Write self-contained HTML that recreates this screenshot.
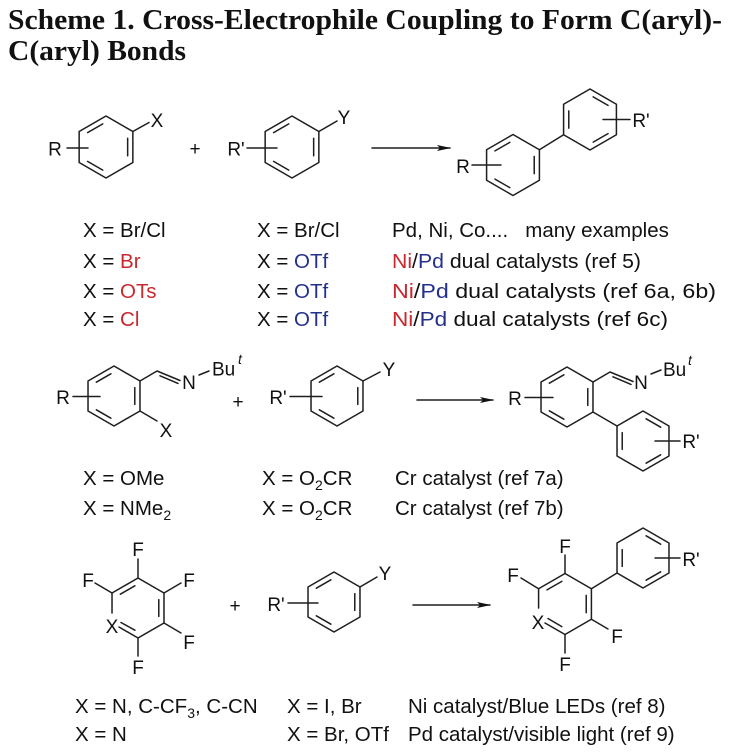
<!DOCTYPE html>
<html>
<head>
<meta charset="utf-8">
<style>
  html, body { margin:0; padding:0; background:#fff; }
  body { width:730px; height:753px; overflow:hidden; }
  svg { display:block; }
  .t { font-family:"Liberation Serif", serif; font-weight:bold; font-size:28px; fill:#111; }
  .l { font-family:"Liberation Sans", sans-serif; font-size:19px; fill:#111; text-anchor:middle; }
  .x { font-family:"Liberation Sans", sans-serif; font-size:20.5px; fill:#111; }
  .red { fill:#c8282e; }
  .blue { fill:#23318c; }
  .b { stroke:#1e1e1e; stroke-width:1.5; fill:none; stroke-linecap:round; stroke-linejoin:round; }
</style>
</head>
<body>
<svg width="730" height="753" viewBox="0 0 730 753" xmlns="http://www.w3.org/2000/svg">
  <defs>
    <marker id="ah" markerWidth="14" markerHeight="8" refX="13" refY="4" orient="auto" markerUnits="userSpaceOnUse">
      <path d="M0,1 L14,4 L0,7 L3,4 Z" fill="#111"/>
    </marker>
  </defs>

  <!-- Title -->
  <text class="t" x="8" y="29" textLength="714" lengthAdjust="spacingAndGlyphs">Scheme 1. Cross-Electrophile Coupling to Form C(aryl)-</text>
  <text class="t" x="8" y="60" textLength="178" lengthAdjust="spacingAndGlyphs">C(aryl) Bonds</text>

  <!-- ===== Section 1 ===== -->
  <polygon class="b" points="106,116 132.85,131.5 132.85,162.5 106,178 79.15,162.5 79.15,131.5"/>
  <line class="b" x1="87.6" y1="132.6" x2="102.75" y2="123.9"/>
  <line class="b" x1="127.65" y1="138.25" x2="127.65" y2="155.75"/>
  <line class="b" x1="102.75" y1="170.1" x2="87.6" y2="161.4"/>
  <line class="b" x1="132.85" y1="131.5" x2="149" y2="122.5"/>
  <text class="l" x="157" y="127">X</text>
  <line class="b" x1="67" y1="148" x2="88" y2="148"/>
  <text class="l" x="55" y="155.5">R</text>

  <text class="l" x="195" y="155">+</text>

  <polygon class="b" points="292,116 318.85,131.5 318.85,162.5 292,178 265.15,162.5 265.15,131.5"/>
  <line class="b" x1="273.6" y1="132.6" x2="288.75" y2="123.9"/>
  <line class="b" x1="313.65" y1="138.25" x2="313.65" y2="155.75"/>
  <line class="b" x1="288.75" y1="170.1" x2="273.6" y2="161.4"/>
  <line class="b" x1="318.85" y1="131.5" x2="337" y2="121"/>
  <text class="l" x="344" y="124">Y</text>
  <line class="b" x1="247" y1="148" x2="277" y2="148"/>
  <text class="l" x="236" y="155.5">R'</text>

  <line class="b" x1="372" y1="148" x2="450" y2="148" marker-end="url(#ah)"/>

  <polygon class="b" points="513,134.5 539.41,149.75 539.41,180.25 513,195.5 486.59,180.25 486.59,149.75"/>
  <line class="b" x1="494.97" y1="150.91" x2="509.81" y2="142.34"/>
  <line class="b" x1="534.22" y1="156.42" x2="534.22" y2="173.58"/>
  <line class="b" x1="509.81" y1="187.66" x2="494.97" y2="179.09"/>
  <line class="b" x1="539.41" y1="149.75" x2="563.59" y2="134.75"/>
  <polygon class="b" points="590,89 616.41,104.25 616.41,134.75 590,150 563.59,134.75 563.59,104.25"/>
  <line class="b" x1="568.78" y1="110.92" x2="568.78" y2="128.08"/>
  <line class="b" x1="593.19" y1="96.84" x2="608.03" y2="105.41"/>
  <line class="b" x1="608.03" y1="133.59" x2="593.19" y2="142.16"/>
  <line class="b" x1="472" y1="165" x2="501" y2="165"/>
  <text class="l" x="463" y="173">R</text>
  <line class="b" x1="603" y1="119.5" x2="630" y2="119.5"/>
  <text class="l" x="641" y="127">R'</text>

  <!-- Table 1 -->
  <text class="x" x="83" y="237">X = Br/Cl</text>
  <text class="x" x="257" y="237">X = Br/Cl</text>
  <text class="x" x="392" y="237" xml:space="preserve">Pd, Ni, Co....   many examples</text>

  <text class="x" x="83" y="268">X = <tspan class="red">Br</tspan></text>
  <text class="x" x="257" y="268">X = <tspan class="blue">OTf</tspan></text>
  <text class="x" x="392" y="268" textLength="249" lengthAdjust="spacingAndGlyphs"><tspan class="red">Ni</tspan>/<tspan class="blue">Pd</tspan> dual catalysts (ref 5)</text>

  <text class="x" x="83" y="298">X = <tspan class="red">OTs</tspan></text>
  <text class="x" x="257" y="298">X = <tspan class="blue">OTf</tspan></text>
  <text class="x" x="392" y="298" textLength="324" lengthAdjust="spacingAndGlyphs"><tspan class="red">Ni</tspan>/<tspan class="blue">Pd</tspan> dual catalysts (ref 6a, 6b)</text>

  <text class="x" x="83" y="326">X = <tspan class="red">Cl</tspan></text>
  <text class="x" x="257" y="326">X = <tspan class="blue">OTf</tspan></text>
  <text class="x" x="392" y="326" textLength="276" lengthAdjust="spacingAndGlyphs"><tspan class="red">Ni</tspan>/<tspan class="blue">Pd</tspan> dual catalysts (ref 6c)</text>

  <!-- ===== Section 2 ===== -->
  <polygon class="b" points="114,366 139.98,381 139.98,411 114,426 88.02,411 88.02,381"/>
  <line class="b" x1="96.34" y1="382.2" x2="110.88" y2="373.8"/>
  <line class="b" x1="134.78" y1="387.6" x2="134.78" y2="404.4"/>
  <line class="b" x1="110.88" y1="418.2" x2="96.34" y2="409.8"/>
  <line class="b" x1="73" y1="396.5" x2="100" y2="396.5"/>
  <text class="l" x="63" y="404">R</text>
  <polyline class="b" points="139.98,381 157,371 180,380.5"/>
  <line class="b" x1="160" y1="375.8" x2="178" y2="383.4"/>
  <text class="l" x="189" y="389">N</text>
  <line class="b" x1="199" y1="375" x2="209" y2="371"/>
  <text class="l" x="212" y="375.5" style="text-anchor:start">Bu</text>
  <text class="l" x="238" y="364" style="text-anchor:start;font-style:italic;font-size:14px">t</text>
  <line class="b" x1="139.98" y1="411" x2="157" y2="421"/>
  <text class="l" x="166" y="437">X</text>

  <text class="l" x="238" y="408">+</text>

  <polygon class="b" points="337,366 362.98,381 362.98,411 337,426 311.02,411 311.02,381"/>
  <line class="b" x1="319.34" y1="382.2" x2="333.88" y2="373.8"/>
  <line class="b" x1="357.78" y1="387.6" x2="357.78" y2="404.4"/>
  <line class="b" x1="333.88" y1="418.2" x2="319.34" y2="409.8"/>
  <line class="b" x1="362.98" y1="381" x2="380" y2="372"/>
  <text class="l" x="389" y="376">Y</text>
  <line class="b" x1="290" y1="396.5" x2="322" y2="396.5"/>
  <text class="l" x="278" y="404">R'</text>

  <line class="b" x1="417" y1="400" x2="493" y2="400" marker-end="url(#ah)"/>

  <polygon class="b" points="567,367 592.98,382 592.98,412 567,427 541.02,412 541.02,382"/>
  <line class="b" x1="549.34" y1="383.2" x2="563.88" y2="374.8"/>
  <line class="b" x1="587.78" y1="388.6" x2="587.78" y2="405.4"/>
  <line class="b" x1="563.88" y1="419.2" x2="549.34" y2="410.8"/>
  <line class="b" x1="525" y1="397.5" x2="553" y2="397.5"/>
  <text class="l" x="515" y="405">R</text>
  <polyline class="b" points="592.98,382 610,372 633,381.5"/>
  <line class="b" x1="613" y1="376.8" x2="631" y2="384.4"/>
  <text class="l" x="641" y="389">N</text>
  <line class="b" x1="651" y1="374" x2="661" y2="370"/>
  <text class="l" x="663" y="376" style="text-anchor:start">Bu</text>
  <text class="l" x="688" y="365" style="text-anchor:start;font-style:italic;font-size:14px">t</text>
  <line class="b" x1="592.98" y1="412" x2="617.02" y2="426"/>
  <polygon class="b" points="643,411 668.98,426 668.98,456 643,471 617.02,456 617.02,426"/>
  <line class="b" x1="622.22" y1="432.6" x2="622.22" y2="449.4"/>
  <line class="b" x1="646.12" y1="418.8" x2="660.66" y2="427.2"/>
  <line class="b" x1="660.66" y1="454.8" x2="646.12" y2="463.2"/>
  <line class="b" x1="655" y1="441" x2="680" y2="441"/>
  <text class="l" x="691" y="448">R'</text>

  <!-- Table 2 -->
  <text class="x" x="83" y="485">X = OMe</text>
  <text class="x" x="262" y="485">X = O<tspan font-size="14" dy="5">2</tspan><tspan dy="-5">CR</tspan></text>
  <text class="x" x="395" y="485">Cr catalyst (ref 7a)</text>
  <text class="x" x="83" y="515">X = NMe<tspan font-size="14" dy="5">2</tspan></text>
  <text class="x" x="262" y="515">X = O<tspan font-size="14" dy="5">2</tspan><tspan dy="-5">CR</tspan></text>
  <text class="x" x="395" y="515">Cr catalyst (ref 7b)</text>

  <!-- ===== Section 3 ===== -->
  <polyline class="b" points="112.02,613 112.02,593 138,578 163.98,593 163.98,623 138,638 119,627"/>
  <line class="b" x1="120.34" y1="594.2" x2="134.88" y2="585.8"/>
  <line class="b" x1="158.78" y1="599.6" x2="158.78" y2="616.4"/>
  <line class="b" x1="134.88" y1="630.2" x2="121" y2="622.5"/>
  <text class="l" x="112" y="633">X</text>
  <line class="b" x1="138" y1="578" x2="138" y2="559"/>
  <text class="l" x="138" y="556">F</text>
  <line class="b" x1="112.02" y1="593" x2="95" y2="583"/>
  <text class="l" x="88" y="587">F</text>
  <line class="b" x1="163.98" y1="593" x2="181" y2="583"/>
  <text class="l" x="189" y="587">F</text>
  <line class="b" x1="163.98" y1="623" x2="181" y2="633"/>
  <text class="l" x="189" y="649">F</text>
  <line class="b" x1="138" y1="638" x2="138" y2="656"/>
  <text class="l" x="138" y="674">F</text>

  <text class="l" x="235" y="612">+</text>

  <polygon class="b" points="334,572 359.98,587 359.98,617 334,632 308.02,617 308.02,587"/>
  <line class="b" x1="316.34" y1="588.2" x2="330.88" y2="579.8"/>
  <line class="b" x1="354.78" y1="593.6" x2="354.78" y2="610.4"/>
  <line class="b" x1="330.88" y1="624.2" x2="316.34" y2="615.8"/>
  <line class="b" x1="359.98" y1="587" x2="377" y2="577"/>
  <text class="l" x="385" y="580">Y</text>
  <line class="b" x1="288" y1="603" x2="318" y2="603"/>
  <text class="l" x="276" y="611">R'</text>

  <line class="b" x1="413" y1="605" x2="490" y2="605" marker-end="url(#ah)"/>

  <polyline class="b" points="538.59,608 538.59,588.75 565,573.5 591.41,588.75 591.41,619.25 565,634.5 545,623"/>
  <line class="b" x1="546.97" y1="589.91" x2="561.81" y2="581.34"/>
  <line class="b" x1="586.22" y1="595.42" x2="586.22" y2="612.58"/>
  <line class="b" x1="561.81" y1="626.66" x2="548" y2="618.5"/>
  <text class="l" x="538" y="629">X</text>
  <line class="b" x1="565" y1="573.5" x2="565" y2="555"/>
  <text class="l" x="565" y="553">F</text>
  <line class="b" x1="538.59" y1="588.75" x2="521" y2="578"/>
  <text class="l" x="513" y="582">F</text>
  <line class="b" x1="591.41" y1="619.25" x2="608" y2="629"/>
  <text class="l" x="617" y="643">F</text>
  <line class="b" x1="565" y1="634.5" x2="565" y2="653"/>
  <text class="l" x="565" y="671">F</text>
  <line class="b" x1="591.41" y1="588.75" x2="617.02" y2="573"/>
  <polygon class="b" points="643,528 668.98,543 668.98,573 643,588 617.02,573 617.02,543"/>
  <line class="b" x1="622.22" y1="549.6" x2="622.22" y2="566.4"/>
  <line class="b" x1="646.12" y1="535.8" x2="660.66" y2="544.2"/>
  <line class="b" x1="660.66" y1="571.8" x2="646.12" y2="580.2"/>
  <line class="b" x1="655" y1="558" x2="680" y2="558"/>
  <text class="l" x="691" y="566">R'</text>

  <!-- Table 3 -->
  <text class="x" x="75" y="713">X = N, C-CF<tspan font-size="14" dy="5">3</tspan><tspan dy="-5">, C-CN</tspan></text>
  <text class="x" x="287" y="713">X = I, Br</text>
  <text class="x" x="408" y="713">Ni catalyst/Blue LEDs (ref 8)</text>
  <text class="x" x="75" y="741">X = N</text>
  <text class="x" x="287" y="741">X = Br, OTf</text>
  <text class="x" x="408" y="741">Pd catalyst/visible light (ref 9)</text>
</svg>
</body>
</html>
